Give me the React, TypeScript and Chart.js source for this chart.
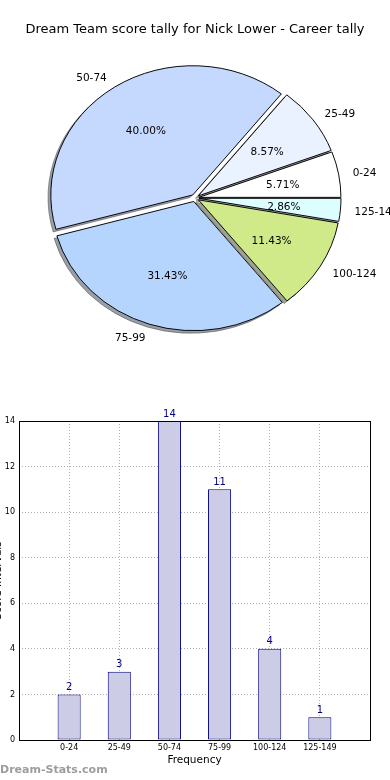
import React, { useEffect, useRef } from 'react';
import { Chart, registerables } from 'chart.js';

Chart.register(...registerables);

// ---------- data ----------
const chartTitle = 'Dream Team score tally for Nick Lower - Career tally';
const categories = ['0-24', '25-49', '50-74', '75-99', '100-124', '125-149'];
const counts = [2, 3, 14, 11, 4, 1];
const sliceColors = ['#ffffff', '#eaf1ff', '#c5d9ff', '#b5d5ff', '#d0ea8a', '#dcfeff'];
const yTickValues = [0, 2, 4, 6, 8, 10, 12, 14];
const xAxisTitle = 'Frequency';
const yAxisTitle = 'Score Intervals';
const watermark = 'Dream-Stats.com';

// ---------- style ----------
const FONT = '"DejaVu Sans", "Liberation Sans", sans-serif';
const PIE_R = 142;
const PIE_SY = 0.91;
const EXPLODE = 4;
const SHADOW_DX = -2.8;
const SHADOW_DY = 2.6;
const LABEL_DY = 1.5;
const BAR_FILL = '#ccccE6';
const BAR_EDGE = '#000080';

const total = counts.reduce((a, b) => a + b, 0);
const percentLabels = counts.map((c) => ((c / total) * 100).toFixed(2) + '%');

// Chart.js draws clockwise; matplotlib counter-clockwise -> reverse order
const pieLabels = [...categories].reverse();
const pieValues = [...counts].reverse();
const pieColors = [...sliceColors].reverse();
const piePct = [...percentLabels].reverse();

function shadowOf(hex: string): string {
  const n = parseInt(hex.slice(1), 16);
  const r = (n >> 16) & 255, g = (n >> 8) & 255, b = n & 255;
  return `rgba(${Math.round(r * 0.3)},${Math.round(g * 0.3)},${Math.round(b * 0.3)},0.5)`;
}
const pieShadows = pieColors.map(shadowOf);

const piePlugin = {
  id: 'mplPie',
  beforeDatasetDraw(chart: any, args: any) {
    const ctx = chart.ctx as CanvasRenderingContext2D;
    const arcs = args.meta.data;
    if (!arcs.length) return false;
    const cx = arcs[0].x, cy = arcs[0].y;
    ctx.save();
    ctx.translate(cx, cy);
    ctx.scale(1, PIE_SY);
    ctx.translate(-cx, -cy);
    const FAR = 4000;
    arcs.forEach((arc: any, i: number) => {
      const m = (arc.startAngle + arc.endAngle) / 2;
      ctx.save();
      ctx.translate(Math.cos(m) * EXPLODE - FAR, Math.sin(m) * EXPLODE);
      ctx.shadowColor = pieShadows[i];
      ctx.shadowOffsetX = FAR + SHADOW_DX;
      ctx.shadowOffsetY = SHADOW_DY;
      ctx.shadowBlur = 0;
      arc.draw(ctx);
      ctx.restore();
    });
    arcs.forEach((arc: any) => {
      const m = (arc.startAngle + arc.endAngle) / 2;
      ctx.save();
      ctx.translate(Math.cos(m) * EXPLODE, Math.sin(m) * EXPLODE);
      arc.draw(ctx);
      ctx.restore();
    });
    ctx.restore();
    return false;
  },
  afterDraw(chart: any) {
    const ctx = chart.ctx as CanvasRenderingContext2D;
    const meta = chart.getDatasetMeta(0);
    ctx.save();
    ctx.fillStyle = '#000';
    ctx.font = `10.5px ${FONT}`;
    ctx.textBaseline = 'middle';
    meta.data.forEach((arc: any, i: number) => {
      const m = (arc.startAngle + arc.endAngle) / 2;
      const c = Math.cos(m), s = Math.sin(m);
      const dOut = EXPLODE + PIE_R * 1.1;
      ctx.textAlign = c > 0 ? 'left' : 'right';
      ctx.fillText(pieLabels[i], arc.x + c * dOut, arc.y + s * dOut * PIE_SY + LABEL_DY);
      const dIn = EXPLODE + PIE_R * 0.6;
      ctx.textAlign = 'center';
      ctx.fillText(piePct[i], arc.x + c * dIn, arc.y + s * dIn * PIE_SY + LABEL_DY);
    });
    ctx.font = `13px ${FONT}`;
    ctx.textAlign = 'center';
    ctx.fillText(chartTitle, 195, 30);
    ctx.restore();
  },
};

const barPlugin = {
  id: 'mplBar',
  afterDatasetsDraw(chart: any) {
    const ctx = chart.ctx as CanvasRenderingContext2D;
    const meta = chart.getDatasetMeta(0);
    ctx.save();
    ctx.fillStyle = BAR_EDGE;
    ctx.font = `10px ${FONT}`;
    ctx.textAlign = 'center';
    ctx.textBaseline = 'bottom';
    meta.data.forEach((bar: any, i: number) => {
      ctx.fillText(String(counts[i]), bar.x, bar.y - 2);
    });
    ctx.restore();
  },
  afterDraw(chart: any) {
    const ctx = chart.ctx as CanvasRenderingContext2D;
    const a = chart.chartArea;
    ctx.save();
    ctx.strokeStyle = '#000';
    ctx.lineWidth = 1;
    const l = Math.round(a.left) + 0.5, t = Math.round(a.top) + 0.5;
    const r = Math.round(a.right) + 0.5, b = Math.round(a.bottom) + 0.5;
    ctx.strokeRect(l, t, r - l, b - t);
    // y title (clipped at the left edge, as in the reference)
    ctx.save();
    ctx.translate(-2, (a.top + a.bottom) / 2);
    ctx.rotate(-Math.PI / 2);
    ctx.fillStyle = '#000';
    ctx.font = `10.5px ${FONT}`;
    ctx.textAlign = 'center';
    ctx.textBaseline = 'middle';
    ctx.fillText(yAxisTitle, 0, 0);
    ctx.restore();
    // watermark
    ctx.fillStyle = 'rgba(140,140,140,0.85)';
    ctx.font = `bold 11px ${FONT}`;
    ctx.textAlign = 'left';
    ctx.textBaseline = 'middle';
    ctx.fillText(watermark, 0, chart.height - 10);
    ctx.restore();
  },
};

export default function App() {
  const pieRef = useRef<HTMLCanvasElement>(null);
  const barRef = useRef<HTMLCanvasElement>(null);

  useEffect(() => {
    const pie = new Chart(pieRef.current as HTMLCanvasElement, {
      type: 'pie',
      data: {
        labels: pieLabels,
        datasets: [
          {
            data: pieValues,
            backgroundColor: pieColors,
            borderColor: '#000',
            borderWidth: 1,
            radius: PIE_R,
            rotation: 90,
            clip: false,
          } as any,
        ],
      },
      options: {
        responsive: false,
        animation: false,
        radius: PIE_R,
        rotation: 90,
        layout: { padding: { top: 6, left: 0, right: 0, bottom: 0 } },
        plugins: { legend: { display: false }, tooltip: { enabled: false }, title: { display: false } },
      } as any,
      plugins: [piePlugin],
    });

    const bar = new Chart(barRef.current as HTMLCanvasElement, {
      type: 'bar',
      data: {
        datasets: [
          {
            data: counts.map((v, i) => ({ x: i, y: v })),
            backgroundColor: BAR_FILL,
            borderColor: BAR_EDGE,
            borderWidth: 1,
            borderSkipped: false,
            barPercentage: 0.46,
            categoryPercentage: 1,
          } as any,
        ],
      },
      options: {
        responsive: false,
        animation: false,
        layout: { padding: { top: 31, right: 20, left: 0, bottom: 0 } },
        plugins: { legend: { display: false }, tooltip: { enabled: false } },
        scales: {
          x: {
            type: 'linear',
            min: -1,
            max: categories.length,
            offset: false,
            z: 1,
            grid: { offset: false, color: '#b0b0b0', drawTicks: false },
            border: { display: false, dash: [1, 2] },
            ticks: {
              stepSize: 1,
              autoSkip: false,
              maxRotation: 0,
              padding: 3,
              color: '#000',
              font: { family: FONT, size: 8 },
              callback: (v: any) => categories[v] ?? '',
            },
            title: {
              display: true,
              text: xAxisTitle,
              color: '#000',
              font: { family: FONT, size: 10.5 },
              padding: { top: 1, bottom: 13 },
            },
            afterFit: (s: any) => {
              s.height = 40;
            },
          },
          y: {
            type: 'linear',
            min: yTickValues[0],
            max: yTickValues[yTickValues.length - 1],
            grid: { color: '#b0b0b0', drawTicks: false },
            border: { display: false, dash: [1, 2] },
            afterBuildTicks: (s: any) => {
              s.ticks = yTickValues.map((v) => ({ value: v }));
            },
            ticks: {
              padding: 4,
              color: '#000',
              font: { family: FONT, size: 8 },
            },
            afterFit: (s: any) => {
              s.width = 19;
            },
          },
        },
      } as any,
      plugins: [barPlugin],
    });

    return () => {
      pie.destroy();
      bar.destroy();
    };
  }, []);

  return (
    <div style={{ position: 'absolute', left: 0, top: 0, width: 390, height: 780, background: '#fff' }}>
      <canvas ref={pieRef} width={390} height={390} style={{ display: 'block', width: 390, height: 390 }} />
      <canvas ref={barRef} width={390} height={390} style={{ display: 'block', width: 390, height: 390 }} />
    </div>
  );
}
